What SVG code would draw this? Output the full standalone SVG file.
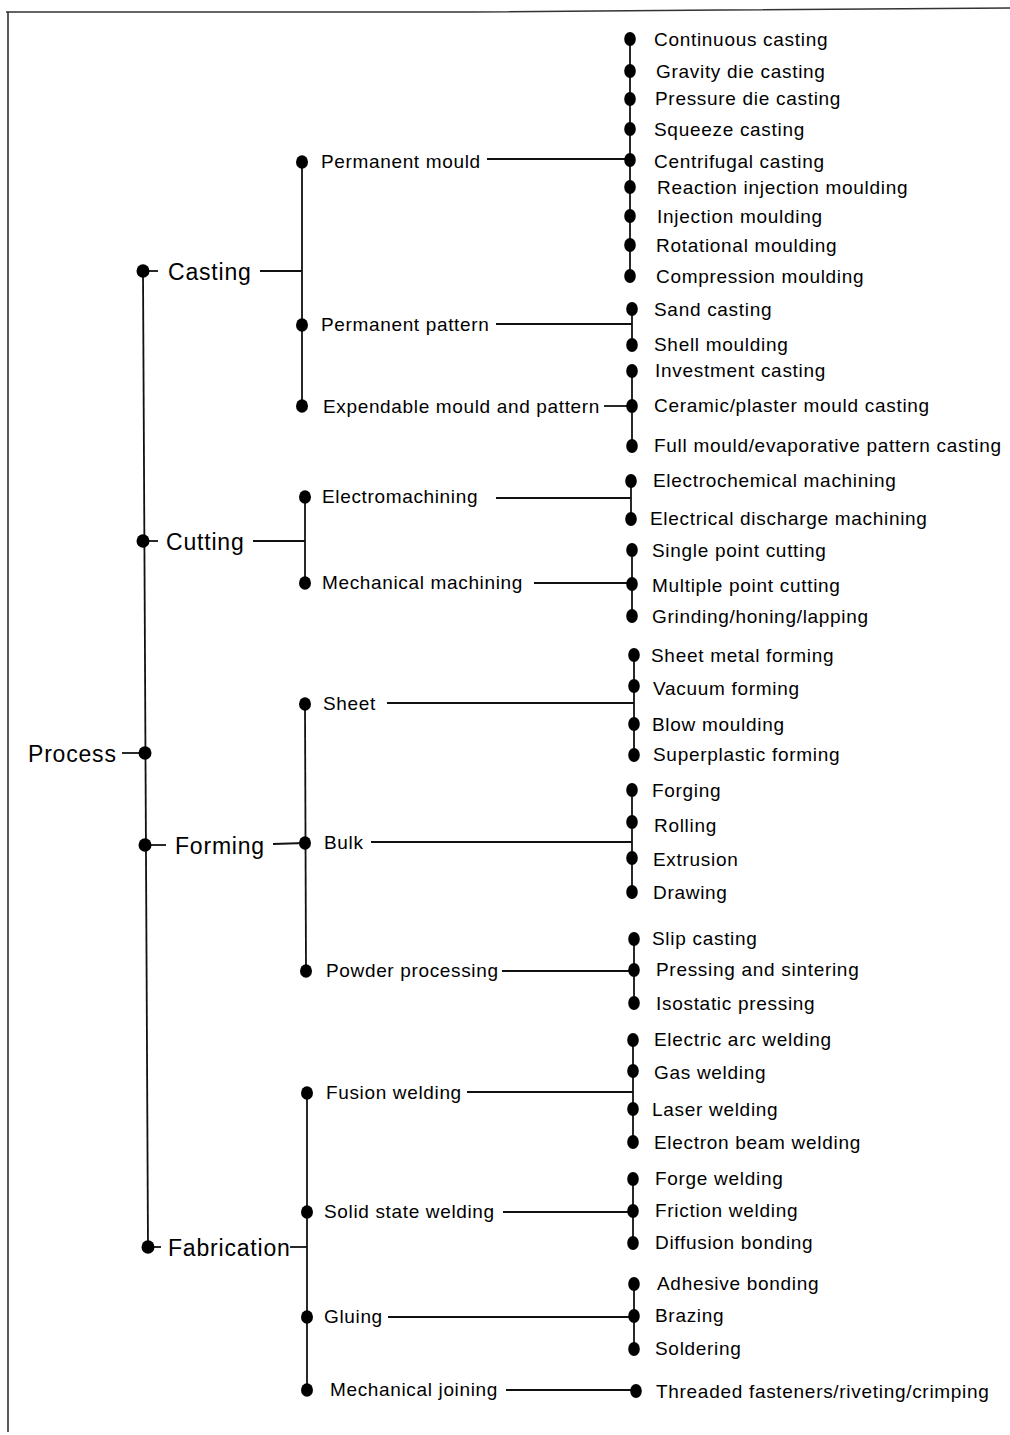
<svg xmlns="http://www.w3.org/2000/svg" width="1010" height="1435" viewBox="0 0 1010 1435">
  <style>
    .ln { stroke: #111; stroke-width: 1.8; fill: none; }
    .frame { stroke: #333; stroke-width: 1.6; fill: none; }
    .d1 { fill: #000; }
    text { font-family: "Liberation Sans", Arial, sans-serif; fill: #000; }
    .t1 { font-size: 23px; letter-spacing: 0.8px; }
    .t2 { font-size: 19px; letter-spacing: 0.65px; }
    .t3 { font-size: 19px; letter-spacing: 0.7px; }
  </style>
  <defs>
    <ellipse id="dotL" rx="6.5" ry="6.8"/>
    <ellipse id="dotM" rx="6" ry="6.8"/>
    <ellipse id="dotS" rx="5.8" ry="7"/>
  </defs>

  <rect x="0" y="0" width="1010" height="1435" fill="#fff"/>

  <!-- page frame -->
  <polyline class="frame" points="6,12 470,12 720,10 1010,8"/>
  <line class="frame" x1="8" y1="12" x2="8" y2="1432"/>

  <!-- connectors -->
  <g id="connectors" class="ln">
    <!-- root spine -->
    <line x1="143" y1="271" x2="148" y2="1247"/>
    <line x1="122" y1="753" x2="145" y2="753"/>
    <!-- level 1 ticks and links -->
    <line x1="143" y1="271" x2="158" y2="271"/>
    <line x1="260" y1="271" x2="302" y2="271"/>
    <line x1="143" y1="541" x2="158" y2="541"/>
    <line x1="253" y1="541" x2="305" y2="541"/>
    <line x1="145" y1="845" x2="166" y2="845"/>
    <line x1="273" y1="844" x2="305" y2="843"/>
    <line x1="148" y1="1247" x2="161" y2="1247"/>
    <line x1="290" y1="1247" x2="307" y2="1247"/>
    <!-- level 2 spines -->
    <line x1="302" y1="162" x2="302" y2="406"/>
    <line x1="305" y1="497" x2="305" y2="583"/>
    <line x1="305" y1="704" x2="306" y2="971"/>
    <line x1="307" y1="1093" x2="307" y2="1390"/>
    <!-- level 2 to leaf spines -->
    <line x1="487" y1="159" x2="630" y2="159"/>
    <line x1="496" y1="324" x2="632" y2="324"/>
    <line x1="604" y1="406" x2="632" y2="406"/>
    <line x1="496" y1="498" x2="631" y2="498"/>
    <line x1="534" y1="583" x2="632" y2="583"/>
    <line x1="387" y1="703" x2="634" y2="703"/>
    <line x1="371" y1="842" x2="632" y2="842"/>
    <line x1="502" y1="971" x2="634" y2="971"/>
    <line x1="467" y1="1092" x2="633" y2="1092"/>
    <line x1="503" y1="1212" x2="633" y2="1212"/>
    <line x1="388" y1="1317" x2="634" y2="1317"/>
    <line x1="506" y1="1390" x2="636" y2="1390"/>
    <!-- leaf spines -->
    <line x1="630" y1="39" x2="630" y2="276"/>
    <line x1="632" y1="309" x2="632" y2="345"/>
    <line x1="632" y1="371" x2="632" y2="446"/>
    <line x1="631" y1="481" x2="631" y2="519"/>
    <line x1="632" y1="550" x2="632" y2="616"/>
    <line x1="634" y1="655" x2="634" y2="755"/>
    <line x1="632" y1="790" x2="632" y2="892"/>
    <line x1="634" y1="939" x2="634" y2="1003"/>
    <line x1="633" y1="1040" x2="633" y2="1142"/>
    <line x1="633" y1="1179" x2="633" y2="1243"/>
    <line x1="634" y1="1284" x2="634" y2="1349"/>
  </g>

  <!-- root -->
  <g id="process"><use href="#dotL" x="145" y="753" class="d1"/><text class="t1" x="28" y="762">Process</text></g>

  <!-- level 1 -->
  <g id="casting"><use href="#dotL" x="143" y="271" class="d1"/><text class="t1" x="168" y="280">Casting</text></g>
  <g id="cutting"><use href="#dotL" x="143" y="541" class="d1"/><text class="t1" x="166" y="550">Cutting</text></g>
  <g id="forming"><use href="#dotL" x="145" y="845" class="d1"/><text class="t1" x="175" y="854">Forming</text></g>
  <g id="fabrication"><use href="#dotL" x="148" y="1247" class="d1"/><text class="t1" x="168" y="1256">Fabrication</text></g>

  <!-- level 2 -->
  <g id="permanent-mould"><use href="#dotM" x="302" y="162" class="d1"/><text class="t2" x="321" y="168">Permanent mould</text></g>
  <g id="permanent-pattern"><use href="#dotM" x="302" y="325" class="d1"/><text class="t2" x="321" y="331">Permanent pattern</text></g>
  <g id="expendable"><use href="#dotM" x="302" y="406" class="d1"/><text class="t2" x="323" y="413">Expendable mould and pattern</text></g>
  <g id="electromachining"><use href="#dotM" x="305" y="497" class="d1"/><text class="t2" x="322" y="503">Electromachining</text></g>
  <g id="mechanical-machining"><use href="#dotM" x="305" y="583" class="d1"/><text class="t2" x="322" y="589">Mechanical machining</text></g>
  <g id="sheet"><use href="#dotM" x="305" y="704" class="d1"/><text class="t2" x="323" y="710">Sheet</text></g>
  <g id="bulk"><use href="#dotM" x="305" y="843" class="d1"/><text class="t2" x="324" y="849">Bulk</text></g>
  <g id="powder"><use href="#dotM" x="306" y="971" class="d1"/><text class="t2" x="326" y="977">Powder processing</text></g>
  <g id="fusion-welding"><use href="#dotM" x="307" y="1093" class="d1"/><text class="t2" x="326" y="1099">Fusion welding</text></g>
  <g id="solid-state-welding"><use href="#dotM" x="307" y="1212" class="d1"/><text class="t2" x="324" y="1218">Solid state welding</text></g>
  <g id="gluing"><use href="#dotM" x="307" y="1317" class="d1"/><text class="t2" x="324" y="1323">Gluing</text></g>
  <g id="mechanical-joining"><use href="#dotM" x="307" y="1390" class="d1"/><text class="t2" x="330" y="1396">Mechanical joining</text></g>

  <!-- leaves: permanent mould -->
  <g id="continuous-casting"><use href="#dotS" x="630" y="39" class="d1"/><text class="t3" x="654" y="46">Continuous casting</text></g>
  <g id="gravity-die"><use href="#dotS" x="630" y="71" class="d1"/><text class="t3" x="656" y="78">Gravity die casting</text></g>
  <g id="pressure-die"><use href="#dotS" x="630" y="99" class="d1"/><text class="t3" x="655" y="105">Pressure die casting</text></g>
  <g id="squeeze"><use href="#dotS" x="630" y="129" class="d1"/><text class="t3" x="654" y="136">Squeeze casting</text></g>
  <g id="centrifugal"><use href="#dotS" x="630" y="160" class="d1"/><text class="t3" x="654" y="168">Centrifugal casting</text></g>
  <g id="reaction-injection"><use href="#dotS" x="630" y="187" class="d1"/><text class="t3" x="657" y="194">Reaction injection moulding</text></g>
  <g id="injection"><use href="#dotS" x="630" y="216" class="d1"/><text class="t3" x="657" y="223">Injection moulding</text></g>
  <g id="rotational"><use href="#dotS" x="630" y="245" class="d1"/><text class="t3" x="656" y="252">Rotational moulding</text></g>
  <g id="compression"><use href="#dotS" x="630" y="276" class="d1"/><text class="t3" x="656" y="283">Compression moulding</text></g>

  <!-- leaves: permanent pattern -->
  <g id="sand-casting"><use href="#dotS" x="632" y="309" class="d1"/><text class="t3" x="654" y="316">Sand casting</text></g>
  <g id="shell-moulding"><use href="#dotS" x="632" y="345" class="d1"/><text class="t3" x="654" y="351">Shell moulding</text></g>

  <!-- leaves: expendable mould and pattern -->
  <g id="investment"><use href="#dotS" x="632" y="371" class="d1"/><text class="t3" x="655" y="377">Investment casting</text></g>
  <g id="ceramic-plaster"><use href="#dotS" x="632" y="406" class="d1"/><text class="t3" x="654" y="412">Ceramic/plaster mould casting</text></g>
  <g id="full-mould"><use href="#dotS" x="632" y="446" class="d1"/><text class="t3" x="654" y="452">Full mould/evaporative pattern casting</text></g>

  <!-- leaves: electromachining -->
  <g id="electrochemical"><use href="#dotS" x="631" y="481" class="d1"/><text class="t3" x="653" y="487">Electrochemical machining</text></g>
  <g id="edm"><use href="#dotS" x="631" y="519" class="d1"/><text class="t3" x="650" y="525">Electrical discharge machining</text></g>

  <!-- leaves: mechanical machining -->
  <g id="single-point"><use href="#dotS" x="632" y="550" class="d1"/><text class="t3" x="652" y="557">Single point cutting</text></g>
  <g id="multiple-point"><use href="#dotS" x="632" y="584" class="d1"/><text class="t3" x="652" y="592">Multiple point cutting</text></g>
  <g id="grinding"><use href="#dotS" x="632" y="616" class="d1"/><text class="t3" x="652" y="623">Grinding/honing/lapping</text></g>

  <!-- leaves: sheet -->
  <g id="sheet-metal"><use href="#dotS" x="634" y="655" class="d1"/><text class="t3" x="651" y="662">Sheet metal forming</text></g>
  <g id="vacuum"><use href="#dotS" x="634" y="686" class="d1"/><text class="t3" x="653" y="695">Vacuum forming</text></g>
  <g id="blow"><use href="#dotS" x="634" y="724" class="d1"/><text class="t3" x="652" y="731">Blow moulding</text></g>
  <g id="superplastic"><use href="#dotS" x="634" y="755" class="d1"/><text class="t3" x="653" y="761">Superplastic forming</text></g>

  <!-- leaves: bulk -->
  <g id="forging"><use href="#dotS" x="632" y="790" class="d1"/><text class="t3" x="652" y="797">Forging</text></g>
  <g id="rolling"><use href="#dotS" x="632" y="822" class="d1"/><text class="t3" x="654" y="832">Rolling</text></g>
  <g id="extrusion"><use href="#dotS" x="632" y="858" class="d1"/><text class="t3" x="653" y="866">Extrusion</text></g>
  <g id="drawing"><use href="#dotS" x="632" y="892" class="d1"/><text class="t3" x="653" y="899">Drawing</text></g>

  <!-- leaves: powder processing -->
  <g id="slip-casting"><use href="#dotS" x="634" y="939" class="d1"/><text class="t3" x="652" y="945">Slip casting</text></g>
  <g id="pressing-sintering"><use href="#dotS" x="634" y="970" class="d1"/><text class="t3" x="656" y="976">Pressing and sintering</text></g>
  <g id="isostatic"><use href="#dotS" x="634" y="1003" class="d1"/><text class="t3" x="656" y="1010">Isostatic pressing</text></g>

  <!-- leaves: fusion welding -->
  <g id="electric-arc"><use href="#dotS" x="633" y="1040" class="d1"/><text class="t3" x="654" y="1046">Electric arc welding</text></g>
  <g id="gas"><use href="#dotS" x="633" y="1071" class="d1"/><text class="t3" x="654" y="1079">Gas welding</text></g>
  <g id="laser"><use href="#dotS" x="633" y="1109" class="d1"/><text class="t3" x="652" y="1116">Laser welding</text></g>
  <g id="electron-beam"><use href="#dotS" x="633" y="1142" class="d1"/><text class="t3" x="654" y="1149">Electron beam welding</text></g>

  <!-- leaves: solid state welding -->
  <g id="forge-welding"><use href="#dotS" x="633" y="1179" class="d1"/><text class="t3" x="655" y="1185">Forge welding</text></g>
  <g id="friction"><use href="#dotS" x="633" y="1211" class="d1"/><text class="t3" x="655" y="1217">Friction welding</text></g>
  <g id="diffusion"><use href="#dotS" x="633" y="1243" class="d1"/><text class="t3" x="655" y="1249">Diffusion bonding</text></g>

  <!-- leaves: gluing -->
  <g id="adhesive"><use href="#dotS" x="634" y="1284" class="d1"/><text class="t3" x="657" y="1290">Adhesive bonding</text></g>
  <g id="brazing"><use href="#dotS" x="634" y="1316" class="d1"/><text class="t3" x="655" y="1322">Brazing</text></g>
  <g id="soldering"><use href="#dotS" x="634" y="1349" class="d1"/><text class="t3" x="655" y="1355">Soldering</text></g>

  <!-- leaves: mechanical joining -->
  <g id="threaded"><use href="#dotS" x="636" y="1391" class="d1"/><text class="t3" x="656" y="1398">Threaded fasteners/riveting/crimping</text></g>
</svg>
